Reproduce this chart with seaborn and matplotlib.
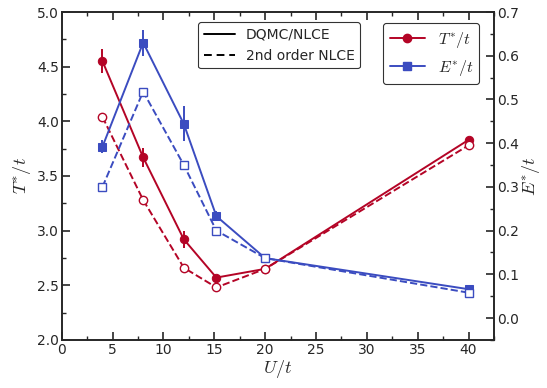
import numpy as np
import pandas as pd
import matplotlib
matplotlib.use("Agg")
import matplotlib.pyplot as plt
from matplotlib.lines import Line2D
from matplotlib.ticker import MultipleLocator
import seaborn as sns

U = [4, 8, 12, 15.2, 20, 40]
T_dqmc = [4.55, 3.67, 2.92, 2.57, 2.65, 3.83]
T_dqmc_err = [0.11, 0.09, 0.08, 0.0, 0.0, 0.0]
T_nlce = [4.04, 3.28, 2.66, 2.48, 2.65, 3.78]
E_dqmc = [0.392, 0.630, 0.444, 0.233, 0.137, 0.066]
E_dqmc_err = [0.015, 0.030, 0.040, 0.012, 0.0, 0.0]
E_nlce = [0.300, 0.518, 0.350, 0.200, 0.137, 0.058]

RED = "#B40426"
BLUE = "#3B4CC0"

sns.set_style("ticks")
plt.rcParams["mathtext.fontset"] = "cm"
plt.rcParams["font.family"] = ["DejaVu Sans"]

fig = plt.figure(figsize=(5.47, 3.88), dpi=100)
ax = fig.add_axes([0.113, 0.124, 0.790, 0.845])
ax2 = ax.twinx()

df = pd.DataFrame({"U": U, "Td": T_dqmc, "Tn": T_nlce, "Ed": E_dqmc, "En": E_nlce})

sns.lineplot(data=df, x="U", y="Td", ax=ax, color=RED, marker="o", markersize=6,
             markeredgecolor=RED, lw=1.4, linestyle="-")
sns.lineplot(data=df, x="U", y="Tn", ax=ax, color=RED, marker="o", markersize=6,
             markerfacecolor="white", markeredgecolor=RED, markeredgewidth=1.0,
             lw=1.4, linestyle="--", dashes=(4, 2.5))
ax.errorbar(U, T_dqmc, yerr=T_dqmc_err, fmt="none", ecolor=RED, elinewidth=1.4)

sns.lineplot(data=df, x="U", y="Ed", ax=ax2, color=BLUE, marker="s", markersize=6,
             markeredgecolor=BLUE, lw=1.4, linestyle="-")
sns.lineplot(data=df, x="U", y="En", ax=ax2, color=BLUE, marker="s", markersize=6,
             markerfacecolor="white", markeredgecolor=BLUE, markeredgewidth=1.0,
             lw=1.4, linestyle="--", dashes=(4, 2.5))
ax2.errorbar(U, E_dqmc, yerr=E_dqmc_err, fmt="none", ecolor=BLUE, elinewidth=1.4)

ax.set_xlim(0, 42.5)
ax.set_ylim(2.0, 5.0)
ax2.set_ylim(-0.05, 0.7)

ax.xaxis.set_major_locator(MultipleLocator(5))
ax.xaxis.set_minor_locator(MultipleLocator(2.5))
ax.yaxis.set_major_locator(MultipleLocator(0.5))
ax.yaxis.set_minor_locator(MultipleLocator(0.25))
ax2.yaxis.set_major_locator(MultipleLocator(0.1))
ax2.yaxis.set_minor_locator(MultipleLocator(0.05))
ax.yaxis.set_major_formatter(matplotlib.ticker.FormatStrFormatter("%.1f"))
ax2.yaxis.set_major_formatter(matplotlib.ticker.FormatStrFormatter("%.1f"))

ax.tick_params(axis="x", which="both", direction="in", top=True, bottom=True, labelsize=10)
ax.tick_params(axis="y", which="both", direction="in", left=True, right=False, labelsize=10)
ax2.tick_params(axis="y", which="both", direction="in", right=True, left=False, labelsize=10)
for a in (ax, ax2):
    a.tick_params(which="major", length=6, width=1.2, pad=2)
    a.tick_params(which="minor", length=3, width=1.0)
    for s in a.spines.values():
        s.set_visible(True)
        s.set_linewidth(1.2)

ax.set_xlabel("$U/t$", fontsize=13, labelpad=1)
ax.set_ylabel("$T^{*}/t$", fontsize=13, labelpad=3)
ax2.set_ylabel("$E^{*}/t$", fontsize=13, labelpad=1)

h1 = [Line2D([], [], color="black", lw=1.4, linestyle="-"),
      Line2D([], [], color="black", lw=1.4, linestyle="--", dashes=(4, 2.5))]
leg1 = ax2.legend(h1, ["DQMC/NLCE", "2nd order NLCE"], loc="upper left",
                  bbox_to_anchor=(0.30, 0.99), fontsize=10, frameon=True,
                  edgecolor="black", fancybox=True, handlelength=2.2)
leg1.get_frame().set_linewidth(0.8)
ax2.add_artist(leg1)
h2 = [Line2D([], [], color=RED, lw=1.4, marker="o", markersize=6),
      Line2D([], [], color=BLUE, lw=1.4, marker="s", markersize=6)]
leg2 = ax2.legend(h2, ["$T^{*}/t$", "$E^{*}/t$"], loc="upper right",
                  bbox_to_anchor=(0.985, 0.99), fontsize=11.5, frameon=True,
                  edgecolor="black", fancybox=True, handlelength=2.2)
leg2.get_frame().set_linewidth(0.8)

fig.savefig("out.png", dpi=100)
